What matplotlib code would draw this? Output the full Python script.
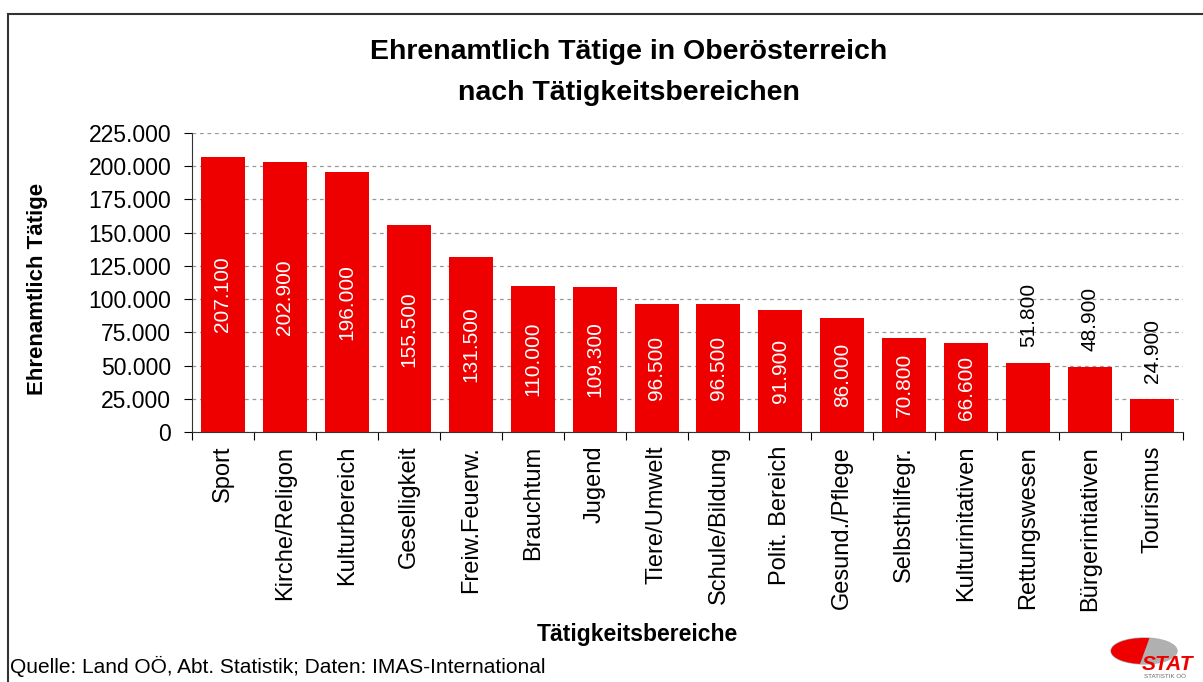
import numpy as np
import matplotlib
matplotlib.use('Agg')
import matplotlib.pyplot as plt
from matplotlib.patches import Ellipse, Wedge
from matplotlib.lines import Line2D

plt.rcParams['font.family'] = ['Liberation Sans', 'DejaVu Sans']

bereiche = ['Sport', 'Kirche/Religon', 'Kulturbereich', 'Geselligkeit', 'Freiw.Feuerw.',
            'Brauchtum', 'Jugend', 'Tiere/Umwelt', 'Schule/Bildung', 'Polit. Bereich',
            'Gesund./Pflege', 'Selbsthilfegr.', 'Kulturinitativen', 'Rettungswesen',
            'Bürgerintiativen', 'Tourismus']
taetige = [207100, 202900, 196000, 155500, 131500, 110000, 109300, 96500, 96500,
           91900, 86000, 70800, 66600, 51800, 48900, 24900]
yticks = [0, 25000, 50000, 75000, 100000, 125000, 150000, 175000, 200000, 225000]


def fmt(v):
    return '{:,}'.format(v).replace(',', '.')


fig = plt.figure(figsize=(12.03, 6.82), dpi=100)
ax = fig.add_axes([0.1596, 0.3666, 0.8238, 0.4384])

x = np.arange(len(bereiche))
ax.bar(x, taetige, width=0.71, color='#ee0000', zorder=3)

for xi, v in zip(x, taetige):
    if v >= 60000:
        ax.text(xi, v / 2, fmt(v), rotation=90, ha='center', va='center',
                color='white', fontsize=15, zorder=4)
    else:
        ax.text(xi, v + 12000, fmt(v), rotation=90, ha='center', va='bottom',
                color='black', fontsize=15, zorder=4)

ax.set_xlim(-0.5, len(bereiche) - 0.5)
ax.set_ylim(0, 225000)
ax.set_yticks(yticks)
ax.set_yticklabels([fmt(t) if t else '0' for t in yticks], fontsize=16.5)
ax.yaxis.grid(True, linestyle=(0, (3, 3)), color='#999999', linewidth=0.9, zorder=0)

ax.set_xticks(np.arange(len(bereiche) + 1) - 0.5)
ax.set_xticklabels([])
ax.set_xticks(x, minor=True)
ax.set_xticklabels(bereiche, minor=True, rotation=90, fontsize=17)
ax.tick_params(axis='x', which='minor', length=0, pad=10)
ax.tick_params(axis='x', which='major', length=6, direction='out')
ax.tick_params(axis='y', length=6, direction='out', pad=9)

for s in ['top', 'right']:
    ax.spines[s].set_visible(False)
ax.spines['left'].set_color('#333333')
ax.spines['bottom'].set_color('#333333')

fig.text(629 / 1203, 1 - 52 / 682, 'Ehrenamtlich Tätige in Oberösterreich',
         ha='center', va='center', fontsize=20.5, fontweight='bold')
fig.text(629 / 1203, 1 - 93 / 682, 'nach Tätigkeitsbereichen',
         ha='center', va='center', fontsize=20.5, fontweight='bold')
fig.text(38 / 1203, 1 - 289 / 682, 'Ehrenamtlich Tätige', rotation=90,
         ha='center', va='center', fontsize=16, fontweight='bold')
fig.text(637 / 1203, 1 - 634 / 682, 'Tätigkeitsbereiche',
         ha='center', va='center', fontsize=16.5, fontweight='bold')
fig.text(10 / 1203, 1 - 666 / 682, 'Quelle: Land OÖ, Abt. Statistik; Daten: IMAS-International',
         ha='left', va='center', fontsize=15)

# Rahmen
fig.add_artist(Line2D([8 / 1203, 8 / 1203], [0, 1 - 14 / 682], transform=fig.transFigure,
                      color='#333333', linewidth=1.5))
fig.add_artist(Line2D([8 / 1203, 1], [1 - 14 / 682, 1 - 14 / 682], transform=fig.transFigure,
                      color='#333333', linewidth=1.5))

# Logo (Pixelkoordinaten)
lax = fig.add_axes([1108 / 1203, 0, 92 / 1203, 50 / 682])
lax.set_xlim(0, 92)
lax.set_ylim(0, 50)
lax.axis('off')
ell = Ellipse((36, 31), 66, 26, color='#b0b0b0')
lax.add_patch(ell)
red = Wedge((36, 31), 45, 70, 250, color='#ee0000')
lax.add_patch(red)
red.set_clip_path(ell)
lax.text(60, 18, 'STAT', color='#ee0000', fontsize=15, fontweight='bold',
         ha='center', va='center', style='italic')
lax.text(57, 5, 'STATISTIK OÖ', color='#666666', fontsize=4.5, ha='center', va='center')

fig.savefig('out.png', dpi=100)
